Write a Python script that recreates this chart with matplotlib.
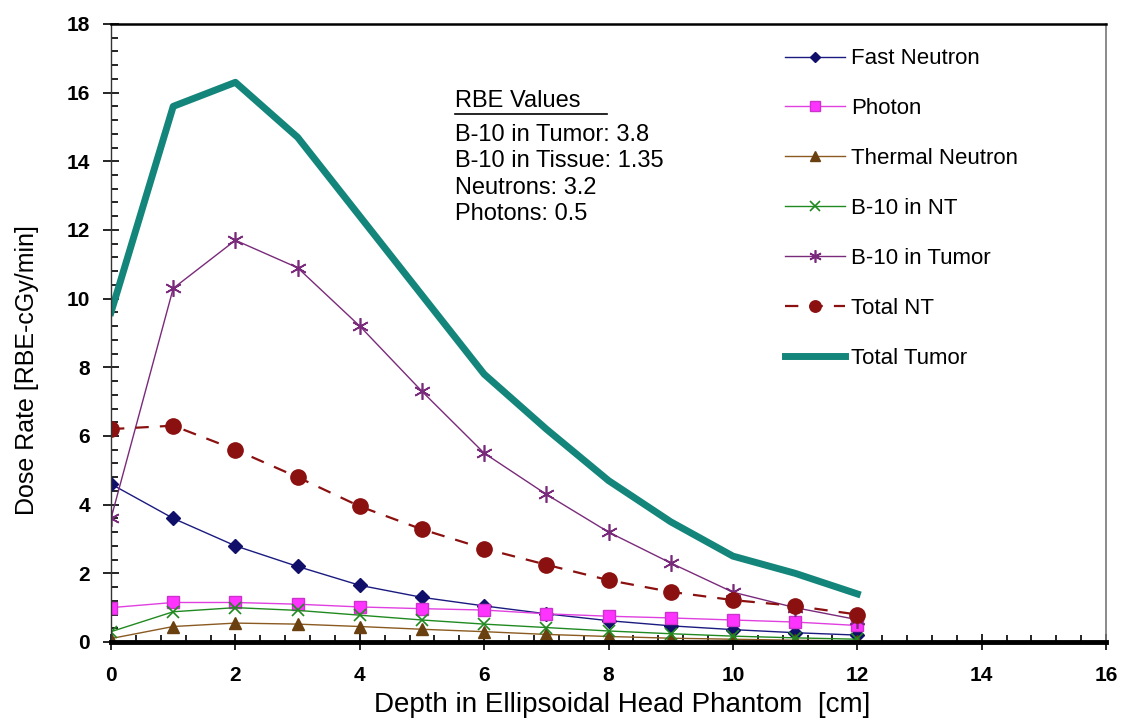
import matplotlib
matplotlib.use('Agg')
import matplotlib.pyplot as plt
from matplotlib.ticker import MultipleLocator

# Dose rate versus depth, ellipsoidal head phantom
depth = [0, 1, 2, 3, 4, 5, 6, 7, 8, 9, 10, 11, 12]
fast_neutron = [4.6, 3.6, 2.8, 2.2, 1.65, 1.3, 1.05, 0.82, 0.62, 0.47, 0.36, 0.27, 0.2]
photon = [1.0, 1.15, 1.15, 1.1, 1.02, 0.97, 0.93, 0.82, 0.75, 0.7, 0.64, 0.58, 0.48]
thermal_neutron = [0.1, 0.45, 0.55, 0.52, 0.45, 0.37, 0.3, 0.22, 0.16, 0.11, 0.08, 0.05, 0.03]
b10_nt = [0.3, 0.88, 1.0, 0.92, 0.78, 0.64, 0.52, 0.42, 0.32, 0.24, 0.17, 0.12, 0.08]
b10_tumor = [3.6, 10.3, 11.7, 10.9, 9.2, 7.3, 5.5, 4.3, 3.2, 2.3, 1.45, 1.0, 0.65]
total_nt = [6.2, 6.3, 5.6, 4.8, 3.95, 3.28, 2.72, 2.25, 1.8, 1.46, 1.22, 1.05, 0.8]
total_tumor = [9.6, 15.6, 16.3, 14.7, 12.4, 10.1, 7.8, 6.2, 4.7, 3.5, 2.5, 2.0, 1.4]

rbe_title = 'RBE Values'
rbe_lines = ['B-10 in Tumor: 3.8', 'B-10 in Tissue: 1.35', 'Neutrons: 3.2', 'Photons: 0.5']

plt.rcParams['font.family'] = ['Liberation Sans', 'DejaVu Sans']

fig = plt.figure(figsize=(11.26, 7.24), dpi=100)
ax = fig.add_axes([0.0986, 0.1133, 0.8837, 0.8536])

ax.plot(depth, fast_neutron, color='#1a1a80', lw=1, marker='D', ms=7,
        mfc='#10106a', mec='#10106a', label='Fast Neutron')
ax.plot(depth, photon, color='#e040e0', lw=1, marker='s', ms=9,
        mfc='#ff33ff', mec='#cc33cc', label='Photon')
ax.plot(depth, thermal_neutron, color='#8a5a20', lw=1, marker='^', ms=9,
        mfc='#6b4010', mec='#6b4010', label='Thermal Neutron')
ax.plot(depth, b10_nt, color='#208a20', lw=1, marker='x', ms=9,
        mew=1.2, label='B-10 in NT')
ax.plot(depth, b10_tumor, color='#7a2a7a', lw=1, marker=(6, 2, 0), ms=12,
        mew=1.2, mec='#7a2a7a', label='B-10 in Tumor')
ax.plot(depth, total_nt, color='#8b1010', lw=1.6, ls=(0, (6, 5)), marker='o', ms=11,
        mfc='#8b1010', mec='#8b1010', label='Total NT')
ax.plot(depth, total_tumor, color='#14857a', lw=5, label='Total Tumor')

ax.set_xlim(0, 16)
ax.set_ylim(0, 18)
ax.xaxis.set_major_locator(MultipleLocator(2))
ax.xaxis.set_minor_locator(MultipleLocator(0.4))
ax.yaxis.set_major_locator(MultipleLocator(2))
ax.yaxis.set_minor_locator(MultipleLocator(0.4))
ax.tick_params(axis='both', which='major', direction='inout', length=12, width=1.2,
               labelsize=15)
ax.tick_params(axis='x', which='major', pad=11)
ax.tick_params(axis='y', which='major', pad=9)
ax.tick_params(axis='both', which='minor', direction='in', length=5, width=1.2)
for lbl in ax.get_xticklabels() + ax.get_yticklabels():
    lbl.set_fontweight('bold')

ax.spines['bottom'].set_linewidth(3.5)
ax.spines['left'].set_linewidth(1)
ax.spines['left'].set_color('#333333')
ax.spines['top'].set_linewidth(1.8)
ax.spines['right'].set_linewidth(1.2)
ax.spines['right'].set_color('#777777')

ax.set_xlabel('Depth in Ellipsoidal Head Phantom  [cm]', fontsize=20)
ax.xaxis.set_label_coords(0.514, -0.081)
ax.set_ylabel('Dose Rate [RBE-cGy/min]', fontsize=18)
ax.yaxis.set_label_coords(-0.072, 0.44)

ax.legend(loc='upper left', bbox_to_anchor=(0.668, 0.975), frameon=False, fontsize=16,
          handlelength=2.7, handletextpad=0.3, labelspacing=1.3, markerscale=0.75,
          borderaxespad=0)

# RBE values box
ax.text(0.346, 0.875, rbe_title, transform=ax.transAxes, fontsize=17, va='center')
ax.plot([0.346, 0.498], [0.855, 0.855], transform=ax.transAxes, color='black', lw=1.2)
for i, line in enumerate(rbe_lines):
    ax.text(0.346, 0.820 - i * 0.0425, line, transform=ax.transAxes, fontsize=17,
            va='center')

fig.savefig('out.png', dpi=100)
